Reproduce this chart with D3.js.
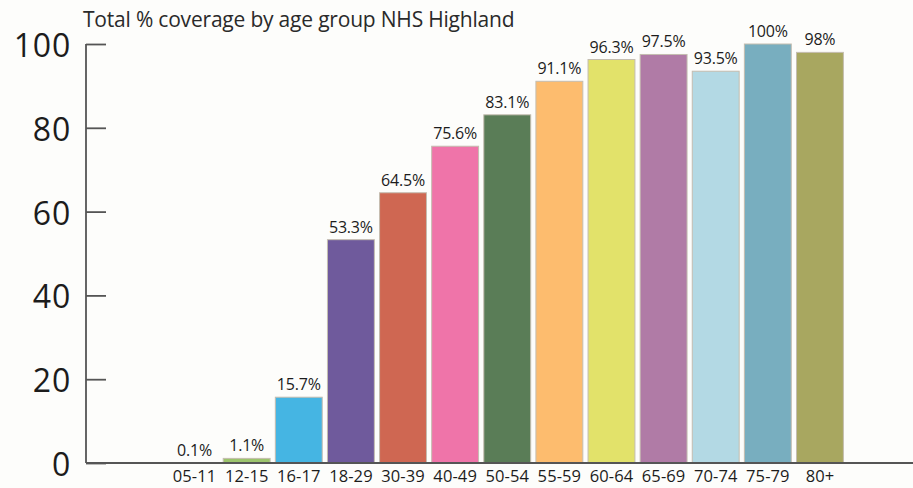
<!DOCTYPE html>
<html>
<head>
<meta charset="utf-8">
<script src="https://cdn.jsdelivr.net/npm/d3@7"></script>
<style>
  body { margin: 0; background: #fdfdfb; }
  svg { display: block; }
  text { font-family: "Open Sans", "Noto Sans", sans-serif; fill: #1c1c1c; }
</style>
</head>
<body>
<svg width="913" height="488"></svg>
<script>
var ages = ["05-11", "12-15", "16-17", "18-29", "30-39", "40-49", "50-54",
            "55-59", "60-64", "65-69", "70-74", "75-79", "80+"];
var coverage = [0.1, 1.1, 15.7, 53.3, 64.5, 75.6, 83.1, 91.1, 96.3, 97.5, 93.5, 100, 98];
var valueLabels = ["0.1%", "1.1%", "15.7%", "53.3%", "64.5%", "75.6%", "83.1%",
                   "91.1%", "96.3%", "97.5%", "93.5%", "100%", "98%"];
var barColors = ["#8fb8d8", "#9cc46c", "#45b5e3", "#6f5a9c", "#cf6752", "#ef74a9", "#5a7d57",
                 "#fdbc6e", "#e2e26a", "#b07ba6", "#b3d9e4", "#78aebf", "#a8a760"];
var yTicks = [0, 20, 40, 60, 80, 100];

var svg = d3.select("svg"),
    width = +svg.attr("width"),
    height = +svg.attr("height");

var x = d3.scaleBand()
    .domain(ages)
    .range([168.5, 846])
    .paddingInner(0.1)
    .paddingOuter(0.05);

var y = d3.scaleLinear()
    .domain([0, 100])
    .range([463, 44]);

var data = ages.map(function(a, i) {
    return { age: a, value: coverage[i], label: valueLabels[i], color: barColors[i] };
});

// title
svg.append("text")
    .attr("x", 83)
    .attr("y", 27)
    .style("font-size", "21px")
    .style("letter-spacing", "-0.2px")
    .style("fill", "#2a2a2a")
    .text("Total % coverage by age group NHS Highland");

// bars
svg.append("g")
    .selectAll("rect")
    .data(data)
    .enter().append("rect")
        .attr("x", function(d) { return x(d.age); })
        .attr("y", function(d) { return y(d.value); })
        .attr("width", x.bandwidth())
        .attr("height", function(d) { return y(0) - y(d.value); })
        .attr("fill", function(d) { return d.color; })
        .style("stroke", "#c4bdb0")
        .style("stroke-width", 1);

// value labels
svg.append("g")
    .selectAll("text")
    .data(data)
    .enter().append("text")
        .attr("x", function(d) { return x(d.age) + x.bandwidth() / 2; })
        .attr("y", function(d) { return y(d.value) - 7; })
        .attr("text-anchor", "middle")
        .style("font-size", "16px")
        .style("letter-spacing", "-0.2px")
        .text(function(d) { return d.label; });

// y axis
var yAxis = svg.append("g")
    .attr("transform", "translate(86,0)")
    .call(d3.axisRight(y).tickValues(yTicks).tickSize(20).tickFormat(""));
yAxis.select(".domain").remove();
yAxis.selectAll(".tick line").style("stroke", "#555").style("stroke-width", 1.8);

svg.append("line")
    .attr("x1", 86).attr("x2", 86)
    .attr("y1", y(100)).attr("y2", y(0))
    .style("stroke", "#555").style("stroke-width", 1.8);

svg.append("g")
    .selectAll("text")
    .data(yTicks)
    .enter().append("text")
        .attr("x", 71)
        .attr("y", function(d) { return y(d) + 13; })
        .attr("text-anchor", "end")
        .style("font-size", "32px")
        .style("letter-spacing", "0.8px")
        .text(function(d) { return d; });

// x axis
svg.append("line")
    .attr("x1", 86).attr("x2", width)
    .attr("y1", y(0)).attr("y2", y(0))
    .style("stroke", "#555").style("stroke-width", 1.8);

var xAxis = svg.append("g")
    .attr("transform", "translate(0," + y(0) + ")")
    .call(d3.axisBottom(x).tickSize(0));
xAxis.select(".domain").remove();
xAxis.selectAll("text")
    .attr("y", 19)
    .attr("dy", null)
    .style("font-size", "16.5px")
    .style("letter-spacing", "0.1px")
    .style("font-family", "\"Open Sans\", \"Noto Sans\", sans-serif")
    .style("fill", "#1c1c1c");
</script>
</body>
</html>
